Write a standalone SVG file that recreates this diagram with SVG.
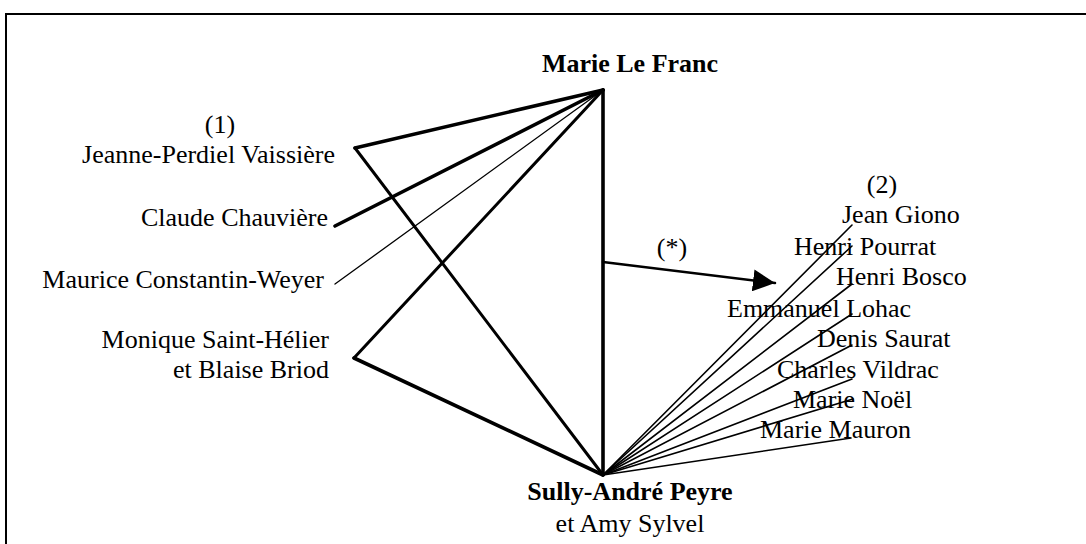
<svg xmlns="http://www.w3.org/2000/svg" width="1086" height="544" viewBox="0 0 1086 544">
<style>
text{font-family:"Liberation Serif","Times New Roman",serif;font-size:26px;fill:#000}
.b{font-weight:bold}
.e{text-anchor:end}
.m{text-anchor:middle}
line{stroke:#000;stroke-linecap:round}
.w4{stroke-width:3.6}
.w3{stroke-width:3}
.w1{stroke-width:1.3}
.f{stroke-width:1.6}
</style>
<defs>
<marker id="ah" markerUnits="userSpaceOnUse" markerWidth="22" markerHeight="22" refX="22" refY="11" orient="auto">
<path d="M0,0 L22,11 L0,22 z" fill="#000"/>
</marker>
</defs>
<rect x="6" y="14" width="1100" height="560" fill="none" stroke="#000" stroke-width="2"/>
<g id="connectors">
<line class="w4" x1="603" y1="90" x2="603" y2="475"/>
<line class="w4" x1="603" y1="90" x2="355" y2="148"/>
<line class="w3" x1="355" y1="148" x2="603" y2="475"/>
<line class="w4" x1="603" y1="90" x2="335" y2="226"/>
<line class="w1" x1="603" y1="90" x2="335" y2="284"/>
<line class="w3" x1="603" y1="90" x2="354" y2="358"/>
<line class="w4" x1="354" y1="358" x2="603" y2="475"/>
<line stroke-width="2.5" x1="603" y1="262" x2="775" y2="283" marker-end="url(#ah)"/>
<text x="672" y="256" class="m">(*)</text>
<line class="f" x1="603" y1="475" x2="852" y2="225"/>
<line class="f" x1="603" y1="475" x2="852" y2="246"/>
<line class="f" x1="603" y1="475" x2="852" y2="284"/>
<line class="f" x1="603" y1="475" x2="852" y2="314"/>
<line class="f" x1="603" y1="475" x2="852" y2="345"/>
<line class="f" x1="603" y1="475" x2="852" y2="379"/>
<line class="f" x1="603" y1="475" x2="853" y2="399"/>
<line class="f" x1="603" y1="475" x2="851" y2="438"/>
</g>
<g id="marie-le-franc"><text x="630" y="72" class="m b">Marie Le Franc</text></g>
<g id="sully-andre-peyre"><text x="630" y="500" class="m b">Sully-André Peyre</text><text x="630" y="532" class="m">et Amy Sylvel</text></g>
<g id="jeanne-perdiel-vaissiere"><text x="220" y="133" class="m">(1)</text><text x="335" y="163" class="e">Jeanne-Perdiel Vaissière</text></g>
<g id="claude-chauviere"><text x="328" y="226" class="e">Claude Chauvière</text></g>
<g id="maurice-constantin-weyer"><text x="324" y="288" class="e">Maurice Constantin-Weyer</text></g>
<g id="monique-saint-helier"><text x="329" y="348" class="e">Monique Saint-Hélier</text><text x="329" y="378" class="e">et Blaise Briod</text></g>
<g id="note-2"><text x="882" y="193" class="m">(2)</text></g>
<g id="jean-giono"><text x="842" y="223">Jean Giono</text></g>
<g id="henri-pourrat"><text x="794" y="255">Henri Pourrat</text></g>
<g id="henri-bosco"><text x="836" y="285">Henri Bosco</text></g>
<g id="emmanuel-lohac"><text x="727" y="317">Emmanuel Lohac</text></g>
<g id="denis-saurat"><text x="817" y="347">Denis Saurat</text></g>
<g id="charles-vildrac"><text x="777" y="378">Charles Vildrac</text></g>
<g id="marie-noel"><text x="793" y="408">Marie Noël</text></g>
<g id="marie-mauron"><text x="760" y="438">Marie Mauron</text></g>
</svg>
